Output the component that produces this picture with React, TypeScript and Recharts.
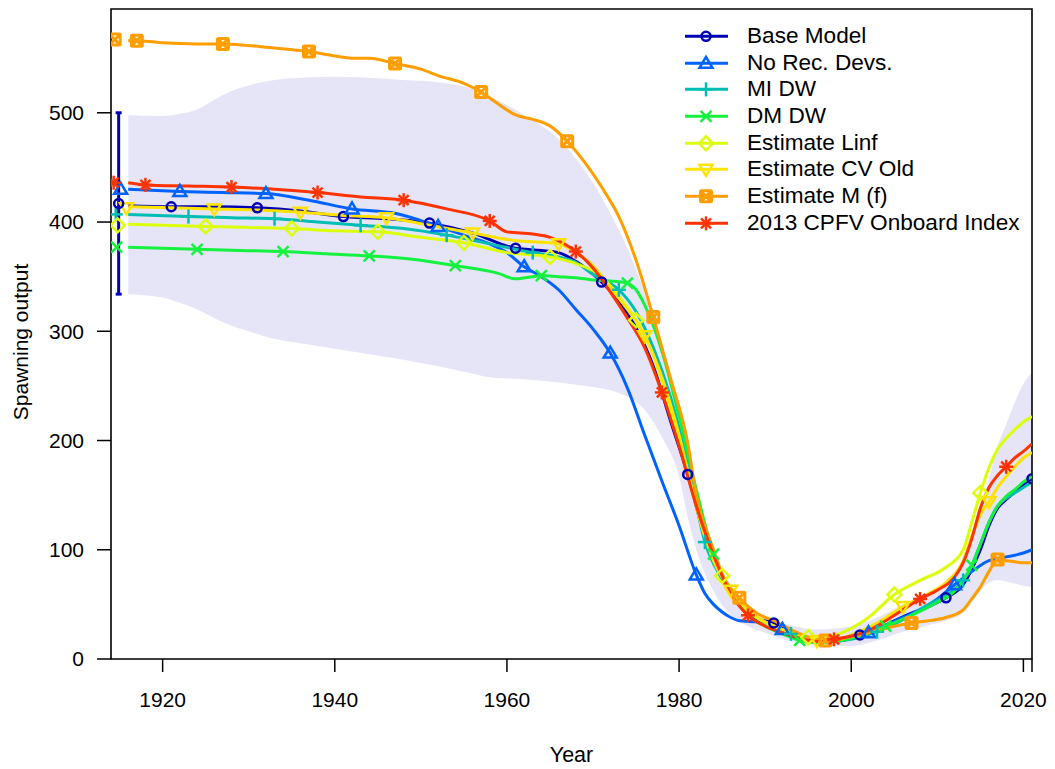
import React from 'react';
import { ComposedChart, Line, Area, Scatter, ErrorBar, XAxis, YAxis, ReferenceArea, Legend } from 'recharts';

const FONT = '"Liberation Sans", Arial, Helvetica, sans-serif';

type Pt = [number, number];

const baseModel: Pt[] = [
  [1916, 415], [1921, 414], [1926, 414], [1931, 413], [1936, 410], [1941, 405], [1946, 403], [1951, 399],
  [1956, 390], [1961, 376], [1964, 374], [1966, 372], [1968, 364], [1971, 345], [1973, 328], [1975, 303],
  [1977, 268], [1979, 218], [1981, 169], [1983, 112], [1984, 92], [1985, 75], [1986, 60], [1987, 50],
  [1988, 42], [1989, 37], [1991, 33], [1993, 24], [1995, 18], [1997, 16], [1999, 17], [2001, 22],
  [2003, 27], [2005, 35], [2007, 42], [2009, 48], [2011, 56], [2013, 68], [2014, 82], [2015, 100],
  [2016, 122], [2017, 138], [2018, 146], [2019, 153], [2020, 160], [2021, 165],
];

const noRecDevs: Pt[] = [
  [1916, 430], [1922, 428], [1927, 427], [1932, 426], [1937, 420], [1942, 412], [1947, 408], [1952, 396],
  [1955, 388], [1958, 380], [1960, 372], [1962, 359], [1964, 350], [1966, 338], [1968, 320], [1970, 302],
  [1972, 280], [1974, 248], [1976, 205], [1978, 163], [1980, 122], [1982, 77], [1983, 60], [1984, 50],
  [1985, 43], [1986, 38], [1987, 35], [1989, 34], [1990, 33], [1992, 27], [1994, 22], [1996, 18],
  [1998, 17], [2000, 19], [2002, 24], [2004, 31], [2006, 38], [2008, 45], [2010, 55], [2012, 68],
  [2014, 80], [2016, 90], [2017, 92], [2019, 95], [2020, 97], [2021, 100],
];

const miDw: Pt[] = [
  [1916, 407], [1923, 405], [1928, 404], [1933, 403], [1938, 400], [1943, 397], [1948, 394], [1953, 388],
  [1958, 380], [1963, 372], [1966, 368], [1968, 363], [1970, 352], [1973, 338], [1975, 318], [1977, 285],
  [1979, 240], [1981, 180], [1983, 107], [1985, 73], [1987, 50], [1989, 38], [1991, 30], [1993, 23],
  [1995, 18], [1997, 16], [2000, 18], [2003, 25], [2006, 36], [2009, 50], [2011, 58], [2013, 72],
  [2014, 85], [2015, 105], [2016, 125], [2017, 140], [2018, 147], [2019, 152], [2020, 157], [2021, 162],
];

const dmDw: Pt[] = [
  [1916, 377], [1924, 375], [1929, 374], [1934, 373], [1939, 371], [1944, 369], [1949, 366], [1954, 360],
  [1959, 353], [1961, 348], [1963, 350], [1964, 351], [1966, 350], [1968, 349], [1970, 347], [1972, 346],
  [1974, 344], [1975, 338], [1976, 324], [1978, 282], [1980, 222], [1982, 155], [1984, 96], [1986, 62],
  [1988, 40], [1990, 30], [1992, 23], [1994, 17], [1996, 15], [1998, 16], [2000, 19], [2002, 24],
  [2004, 30], [2007, 40], [2010, 52], [2012, 62], [2014, 86], [2015, 105], [2016, 125], [2017, 140],
  [2018, 149], [2019, 155], [2020, 162], [2021, 167],
];

const estLinf: Pt[] = [
  [1916, 398], [1925, 396], [1930, 395], [1935, 394], [1940, 392], [1945, 391], [1950, 386], [1955, 381],
  [1960, 372], [1965, 368], [1968, 362], [1971, 350], [1973, 332], [1975, 310], [1977, 278], [1979, 228],
  [1981, 170], [1983, 112], [1985, 76], [1987, 52], [1989, 38], [1991, 30], [1993, 24], [1995, 20],
  [1997, 20], [2000, 28], [2002, 38], [2005, 59], [2008, 72], [2011, 84], [2013, 100], [2014, 125],
  [2015, 152], [2016, 175], [2017, 192], [2018, 202], [2019, 210], [2020, 217], [2021, 222],
];

const estCvOld: Pt[] = [
  [1916, 414], [1921, 413], [1926, 412], [1931, 411], [1936, 409], [1941, 406], [1946, 404], [1951, 397],
  [1956, 390], [1961, 383], [1966, 380], [1968, 372], [1970, 360], [1972, 340], [1974, 320], [1976, 296],
  [1978, 258], [1980, 205], [1982, 140], [1984, 90], [1986, 63], [1988, 45], [1990, 34], [1992, 27],
  [1994, 20], [1996, 17], [1998, 17], [2000, 22], [2003, 33], [2006, 48], [2009, 60], [2011, 70],
  [2013, 90], [2014, 112], [2015, 132], [2016, 144], [2017, 157], [2018, 167], [2019, 176], [2020, 184],
  [2021, 189],
];

const estM: Pt[] = [
  [1916, 566], [1917, 566], [1920, 564], [1924, 563], [1927, 563], [1932, 560], [1937, 556], [1940, 552],
  [1942, 550], [1944, 550], [1947, 545], [1950, 540], [1952, 534], [1955, 527], [1957, 519], [1959, 508],
  [1961, 498], [1963, 494], [1965, 488], [1967, 474], [1969, 455], [1971, 432], [1973, 405], [1975, 365],
  [1977, 313], [1979, 257], [1981, 198], [1982, 150], [1984, 100], [1985, 78], [1987, 56], [1989, 42],
  [1991, 35], [1993, 27], [1995, 20], [1997, 17], [1999, 19], [2001, 22], [2003, 26], [2005, 30],
  [2007, 33], [2009, 35], [2011, 38], [2013, 45], [2014, 55], [2015, 66], [2016, 80], [2017, 91],
  [2018, 90], [2019, 89], [2020, 88], [2021, 88],
];

const cpfvIndex: Pt[] = [
  [1916, 436], [1918, 434], [1923, 433], [1928, 432], [1933, 430], [1938, 427], [1943, 423], [1948, 420],
  [1953, 412], [1958, 401], [1960, 391], [1963, 389], [1965, 386], [1968, 373], [1970, 358], [1972, 336],
  [1974, 312], [1976, 285], [1978, 244], [1980, 195], [1982, 140], [1984, 95], [1986, 60], [1988, 40],
  [1990, 30], [1992, 24], [1994, 19], [1996, 16], [1998, 18], [2000, 21], [2002, 26], [2004, 35],
  [2006, 45], [2008, 55], [2010, 63], [2012, 75], [2013, 88], [2014, 110], [2015, 138], [2016, 157],
  [2017, 168], [2018, 176], [2019, 184], [2020, 190], [2021, 197],
];

// base model 95% interval: [year, low, high]
const baseInterval: [number, number, number][] = [
  [1916, 334, 498], [1920, 331, 497], [1922, 326, 499], [1924, 320, 503], [1926, 312, 512], [1928, 305, 520],
  [1930, 300, 525], [1933, 293, 530], [1936, 289, 532], [1940, 284, 533], [1944, 279, 532], [1948, 274, 530],
  [1952, 268, 528], [1955, 263, 524], [1958, 258, 515], [1962, 256, 498], [1966, 253, 476], [1968, 251, 458],
  [1970, 249, 436], [1972, 246, 408], [1974, 240, 376], [1976, 228, 335], [1978, 203, 282], [1980, 167, 218],
  [1981, 130, 183], [1982, 100, 150], [1984, 62, 100], [1986, 40, 66], [1988, 30, 48], [1990, 24, 38],
  [1993, 16, 31], [1996, 12, 27], [2000, 12, 30], [2003, 17, 38], [2006, 25, 50], [2009, 31, 60],
  [2011, 35, 70], [2013, 42, 88], [2014, 52, 110], [2015, 62, 135], [2016, 70, 165], [2017, 72, 195],
  [2018, 71, 215], [2019, 69, 235], [2020, 67, 252], [2021, 66, 262],
];

const seriesNames = [
  'Base Model', 'No Rec. Devs.', 'MI DW', 'DM DW',
  'Estimate Linf', 'Estimate CV Old', 'Estimate M (f)', '2013 CPFV Onboard Index',
];
const seriesColors = ['#0000B4', '#0063FF', '#00BEB4', '#14F23F', '#DDFE0B', '#FEE201', '#FF9E00', '#FF3300'];
const seriesShapes = ['circle', 'triUp', 'plus', 'cross', 'diamond', 'triDown', 'squareX', 'asterisk'];
const seriesValues = [baseModel, noRecDevs, miDw, dmDw, estLinf, estCvOld, estM, cpfvIndex];
const markerFirstYear = [1921, 1922, 1923, 1924, 1925, 1926, 1917, 1918];

// unfished (virgin) points, drawn just left of the time series
const virginYears = [1914.89, 1915.12, 1914.55, 1914.66, 1914.77, 1915.8, 1914.43, 1914.31];
const virginValues = [417, 430, 407, 377, 397, 413, 567, 436];
const baseVirginLow = 334;
const baseVirginHigh = 500;

const yearTicks = [1920, 1940, 1960, 1980, 2000, 2020, 2021];
const outputTicks = [0, 100, 200, 300, 400, 500];

const series = seriesNames.map((name, i) => ({
  name,
  color: seriesColors[i],
  shape: seriesShapes[i],
  first: markerFirstYear[i],
  data: seriesValues[i].map(([year, v]) => ({ year, v })),
}));

const shadeData = baseInterval.map(([year, lo, hi]) => ({ year, range: [lo, hi] }));

const virginData = series.map((s, i) => ({ year: virginYears[i], v: virginValues[i], idx: i })).slice(1);
const baseVirginData = [
  { year: virginYears[0], v: virginValues[0], err: [virginValues[0] - baseVirginLow, baseVirginHigh - virginValues[0]] },
];

function Marker({ shape, cx, cy, color }: { shape: string; cx: number; cy: number; color: string }) {
  const sw = 2.5;
  const common = { stroke: color, strokeWidth: sw, fill: 'none' };
  switch (shape) {
    case 'circle':
      return <circle cx={cx} cy={cy} r={4.5} {...common} />;
    case 'triUp':
      return <polygon points={`${cx},${cy - 6.5} ${cx - 6.5},${cy + 4.5} ${cx + 6.5},${cy + 4.5}`} {...common} />;
    case 'triDown':
      return <polygon points={`${cx},${cy + 6.5} ${cx - 6.5},${cy - 4.5} ${cx + 6.5},${cy - 4.5}`} {...common} />;
    case 'plus':
      return (
        <g {...common}>
          <line x1={cx - 7} y1={cy} x2={cx + 7} y2={cy} />
          <line x1={cx} y1={cy - 7} x2={cx} y2={cy + 7} />
        </g>
      );
    case 'cross':
      return (
        <g {...common}>
          <line x1={cx - 5.5} y1={cy - 5.5} x2={cx + 5.5} y2={cy + 5.5} />
          <line x1={cx - 5.5} y1={cy + 5.5} x2={cx + 5.5} y2={cy - 5.5} />
        </g>
      );
    case 'diamond':
      return <polygon points={`${cx},${cy - 7} ${cx + 7},${cy} ${cx},${cy + 7} ${cx - 7},${cy}`} {...common} />;
    case 'squareX':
      return (
        <g {...common} strokeWidth={3}>
          <rect x={cx - 5.5} y={cy - 5.5} width={11} height={11} rx={1} />
          <line x1={cx - 5.5} y1={cy - 5.5} x2={cx + 5.5} y2={cy + 5.5} />
          <line x1={cx - 5.5} y1={cy + 5.5} x2={cx + 5.5} y2={cy - 5.5} />
        </g>
      );
    case 'asterisk':
      return (
        <g {...common}>
          <line x1={cx - 7} y1={cy} x2={cx + 7} y2={cy} />
          <line x1={cx} y1={cy - 7} x2={cx} y2={cy + 7} />
          <line x1={cx - 5} y1={cy - 5} x2={cx + 5} y2={cy + 5} />
          <line x1={cx - 5} y1={cy + 5} x2={cx + 5} y2={cy - 5} />
        </g>
      );
    default:
      return <g />;
  }
}

const YearTick = (props: any) => {
  const { x, y, payload } = props;
  if (payload.value % 20 !== 0) return <g />;
  return (
    <text x={x} y={y} dy="0.71em" textAnchor="middle" fill="#000" fontSize={21} fontFamily={FONT}>
      {payload.value}
    </text>
  );
};

const LegendBox = () => (
  <div style={{ fontFamily: FONT, fontSize: 22.6, color: '#000' }}>
    {series.map((s) => (
      <div key={s.name} style={{ display: 'flex', alignItems: 'center', height: 26.7, lineHeight: '26.7px', whiteSpace: 'nowrap' }}>
        <svg width={67} height={26.7} style={{ flex: 'none' }}>
          <line x1={5} y1={13.35} x2={48} y2={13.35} stroke={s.color} strokeWidth={3} />
          <Marker shape={s.shape} cx={26} cy={13.35} color={s.color} />
        </svg>
        <span>{s.name}</span>
      </div>
    ))}
  </div>
);

export default function App() {
  return (
    <div style={{ position: 'absolute', left: 0, top: 0, background: '#fff' }}>
      <ComposedChart width={1055} height={769} margin={{ top: 9, right: 23, left: 0, bottom: 0 }}>
        <XAxis
          type="number"
          dataKey="year"
          domain={[1914, 2021]}
          allowDataOverflow
          ticks={yearTicks}
          interval={0}
          tick={YearTick}
          tickSize={13}
          tickMargin={20}
          tickLine={{ stroke: '#000', strokeWidth: 1.5 }}
          axisLine={false}
          height={110}
          label={{
            content: (p: any) => {
              const vb = p.viewBox;
              return (
                <text x={vb.x + vb.width / 2} y={762} textAnchor="middle" fill="#000" fontSize={21.5} fontFamily={FONT}>
                  Year
                </text>
              );
            },
          }}
        />
        <YAxis
          type="number"
          domain={[0, 595]}
          allowDataOverflow
          ticks={outputTicks}
          interval={0}
          width={111}
          tickSize={14}
          tickMargin={13}
          tick={{ fill: '#000', fontSize: 21, fontFamily: FONT }}
          tickLine={{ stroke: '#000', strokeWidth: 1.5 }}
          axisLine={false}
          label={{
            content: (p: any) => {
              const vb = p.viewBox;
              const cy = vb.y + vb.height / 2 + 8;
              return (
                <text x={28} y={cy} transform={`rotate(-90 28 ${cy})`} textAnchor="middle" fill="#000" fontSize={21} fontFamily={FONT}>
                  Spawning output
                </text>
              );
            },
          }}
        />
        <Area
          data={shadeData}
          dataKey="range"
          type="monotone"
          stroke="none"
          fill="#0000B4"
          fillOpacity={0.1}
          isAnimationActive={false}
          legendType="none"
        />
        {series.map((s) => (
          <Line
            key={s.name}
            data={s.data}
            dataKey="v"
            name={s.name}
            type="monotone"
            stroke={s.color}
            strokeWidth={3}
            isAnimationActive={false}
            activeDot={false}
            dot={(p: any) => {
              const yr = p.payload.year;
              if (yr < s.first || (yr - s.first) % 10 !== 0) return <g key={`d-${p.index}`} />;
              return (
                <g key={`d-${p.index}`}>
                  <Marker shape={s.shape} cx={p.cx} cy={p.cy} color={s.color} />
                </g>
              );
            }}
          />
        ))}
        <Scatter
          data={virginData}
          dataKey="v"
          isAnimationActive={false}
          legendType="none"
          shape={(p: any) => (
            <Marker shape={seriesShapes[p.payload.idx]} cx={p.cx} cy={p.cy} color={seriesColors[p.payload.idx]} />
          )}
        />
        <Scatter
          data={baseVirginData}
          dataKey="v"
          isAnimationActive={false}
          legendType="none"
          shape={(p: any) => <Marker shape="circle" cx={p.cx} cy={p.cy} color={seriesColors[0]} />}
        >
          <ErrorBar dataKey="err" direction="y" width={3} stroke={seriesColors[0]} strokeWidth={3} />
        </Scatter>
        <ReferenceArea x1={1914} x2={2021} y1={0} y2={595} fill="none" stroke="#000" strokeWidth={1.6} ifOverflow="visible" />
        <Legend
          layout="vertical"
          align="center"
          verticalAlign="middle"
          wrapperStyle={{ left: 680, top: 23, width: 370 }}
          content={() => <LegendBox />}
        />
      </ComposedChart>
    </div>
  );
}
